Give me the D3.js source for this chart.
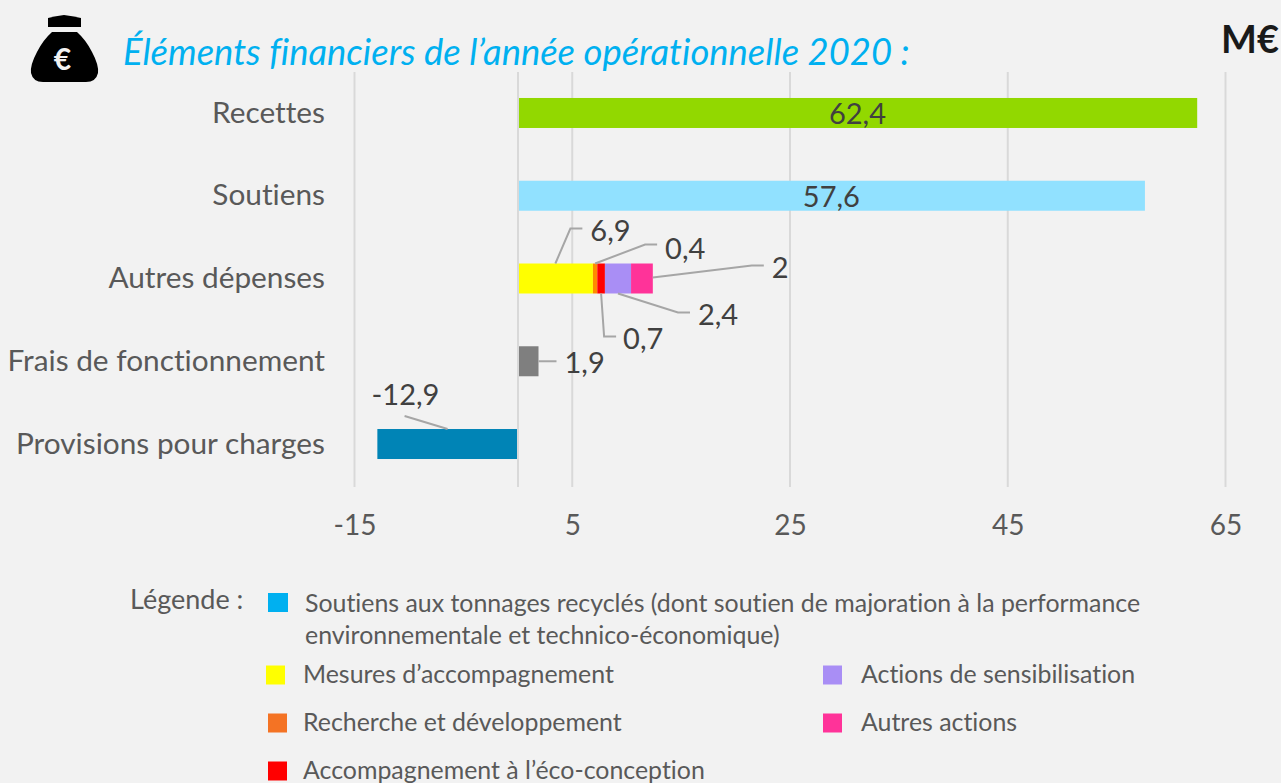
<!DOCTYPE html>
<html>
<head>
<meta charset="utf-8">
<script src="https://d3js.org/d3.v7.min.js"></script>
<style>
  html, body { margin: 0; padding: 0; background: #f2f2f2; overflow: hidden; }
  svg { display: block; font-family: Lato, sans-serif; font-variant-ligatures: none; }
</style>
</head>
<body>
<svg width="1281" height="783"></svg>
<script>
const categories = ["Recettes", "Soutiens", "Autres dépenses", "Frais de fonctionnement", "Provisions pour charges"];
const xTicks = [-15, 5, 25, 45, 65];

// one row per bar: [category, value, colour]
const recettes = [["Recettes", 62.4, "#92d800"]];
const soutiens = [["Soutiens", 57.6, "#91e1ff"]];
const autresValues = [6.9, 0.4, 0.7, 2.4, 2];
const autresColors = ["#ffff00", "#ff8c00", "#ff0000", "#a98ef5", "#ff3399"];
const frais = [["Frais de fonctionnement", 1.9, "#7f7f7f"]];
const provisions = [["Provisions pour charges", -12.9, "#0084b6"]];

const legendLeft = [
  { color: "#ffff00", text: "Mesures d’accompagnement" },
  { color: "#f47324", text: "Recherche et développement" },
  { color: "#ff0000", text: "Accompagnement à l’éco-conception" }
];
const legendRight = [
  { color: "#a98ef5", text: "Actions de sensibilisation" },
  { color: "#ff3399", text: "Autres actions" }
];

const fmt = v => String(v).replace(".", ",");

const svg = d3.select("svg");
const textColor = "#595959";
const labelColor = "#404040";
const leaderColor = "#a6a6a6";
const gridColor = "#d9d9d9";

const x = d3.scaleLinear().domain([-15, 65]).range([354.5, 1225.5]);
const y = d3.scaleBand().domain(categories).range([71.6, 485.4]);
const barH = 30;
const barY = c => y(c) + (y.bandwidth() - barH) / 2;

// Gridlines
svg.append("g").selectAll("line")
  .data(xTicks)
  .enter()
  .append("line")
  .attr("x1", d => x(d)).attr("x2", d => x(d))
  .attr("y1", 72).attr("y2", 487)
  .attr("stroke", gridColor)
  .attr("stroke-width", 2);

// X axis
const xAxis = svg.append("g")
  .attr("transform", "translate(0,487)")
  .call(d3.axisBottom(x).tickValues(xTicks).tickSize(0).tickPadding(28).tickFormat(d => d));
xAxis.select(".domain").remove();
xAxis.selectAll("text")
  .attr("font-family", "Lato, sans-serif")
  .attr("font-size", 28)
  .attr("fill", textColor);

// Y axis
const yAxis = svg.append("g")
  .attr("transform", "translate(325,0)")
  .call(d3.axisLeft(y).tickSize(0).tickPadding(0));
yAxis.select(".domain").remove();
yAxis.selectAll("text")
  .attr("font-family", "Lato, sans-serif")
  .attr("font-size", 29.8)
  .attr("fill", textColor);

// Simple bars
const singles = [...recettes, ...soutiens, ...frais, ...provisions];
svg.append("g").selectAll("rect")
  .data(singles)
  .enter()
  .append("rect")
  .attr("x", d => x(Math.min(0, d[1])))
  .attr("y", d => barY(d[0]))
  .attr("width", d => Math.abs(x(d[1]) - x(0)))
  .attr("height", barH)
  .attr("fill", d => d[2]);

// Stacked bar
let running = 0;
const segments = autresValues.map((v, i) => {
  const s = { value: v, start: running, end: running + v, color: autresColors[i] };
  running += v;
  return s;
});
svg.append("g").selectAll("rect")
  .data(segments)
  .enter()
  .append("rect")
  .attr("x", d => x(d.start))
  .attr("y", barY("Autres dépenses"))
  .attr("width", d => x(d.end) - x(d.start))
  .attr("height", barH)
  .attr("fill", d => d.color);

// Zero line sits over the bar ends
svg.append("line")
  .attr("x1", Math.round(x(0))).attr("x2", Math.round(x(0)))
  .attr("y1", 72).attr("y2", 487)
  .attr("stroke", gridColor)
  .attr("stroke-width", 2);

// Centered labels
[...recettes, ...soutiens].forEach(d => {
  svg.append("text")
    .attr("x", x(d[1] / 2))
    .attr("y", barY(d[0]) + barH / 2)
    .attr("text-anchor", "middle")
    .attr("dominant-baseline", "central")
    .attr("font-size", 29)
    .attr("fill", labelColor)
    .text(fmt(d[1]));
});

// Leader line labels, offsets are relative to the anchor on the bar
function leader(ax, ay, pts, tx, ty, value) {
  const line = d3.line();
  svg.append("path")
    .attr("d", line([[ax, ay]].concat(pts.map(p => [ax + p[0], ay + p[1]]))))
    .attr("fill", "none")
    .attr("stroke", leaderColor)
    .attr("stroke-width", 2);
  svg.append("text")
    .attr("x", ax + tx)
    .attr("y", ay + ty)
    .attr("dominant-baseline", "central")
    .attr("font-size", 29)
    .attr("fill", labelColor)
    .text(fmt(value));
}
const autresTop = barY("Autres dépenses");
const mid = s => x((s.start + s.end) / 2);
leader(mid(segments[0]), autresTop, [[15, -35], [27, -35]], 35, -34, segments[0].value);
leader(mid(segments[1]), autresTop, [[50, -19], [62, -19]], 70, -16, segments[1].value);
leader(x(segments[4].end), autresTop + 14, [[99, -12], [111, -12]], 119, -11, segments[4].value);
leader(mid(segments[3]), autresTop + barH, [[60, 19], [72, 19]], 80, 20, segments[3].value);
leader(mid(segments[2]), autresTop + barH, [[3, 43], [15, 43]], 22, 44, segments[2].value);
leader(x(frais[0][1]), barY(frais[0][0]) + 15, [[18, 0]], 26, 0, frais[0][1]);
leader(x(provisions[0][1] / 2), barY(provisions[0][0]), [[-43, -13]], -76, -36, provisions[0][1]);

// Title
svg.append("text")
  .attr("x", 123).attr("y", 65)
  .attr("font-size", 36.4)
  .attr("font-style", "italic")
  .attr("fill", "#00b0f0")
  .text("Éléments financiers de l’année opérationnelle 2020 :");

svg.append("text")
  .attr("x", 1221).attr("y", 53)
  .attr("font-size", 38)
  .attr("font-weight", "bold")
  .attr("fill", "#1a1a1a")
  .text("M€");

// Money bag icon
const icon = svg.append("g");
icon.append("path")
  .attr("d", "M48,18 Q56,16 64,15 Q72,16 81,18 L81,27 L48,27 Z")
  .attr("fill", "#000");
icon.append("path")
  .attr("d", "M52,32 L77,32 Q86,40 92,52 Q99,65 98,73 Q96,82 86,82 L43,82 Q33,82 31,73 Q30,65 37,52 Q43,40 52,32 Z")
  .attr("fill", "#000");
icon.append("text")
  .attr("x", 62.5).attr("y", 70)
  .attr("text-anchor", "middle")
  .attr("font-size", 30)
  .attr("font-weight", "bold")
  .attr("fill", "#f2f2f2")
  .text("€");

// Legend
const legendSize = 24.9;
svg.append("text")
  .attr("x", 130).attr("y", 598)
  .attr("dominant-baseline", "central")
  .attr("font-size", 27)
  .attr("fill", textColor)
  .text("Légende :");

svg.append("rect").attr("x", 268).attr("y", 593).attr("width", 20).attr("height", 19).attr("fill", "#00b0f0");
["Soutiens aux tonnages recyclés (dont soutien de majoration à la performance",
 "environnementale et technico-économique)"].forEach((t, i) => {
  svg.append("text")
    .attr("x", 305).attr("y", 602 + i * 32)
    .attr("dominant-baseline", "central")
    .attr("font-size", legendSize)
    .attr("fill", textColor)
    .text(t);
});

legendLeft.forEach((d, i) => {
  const cy = 675 + i * 48;
  svg.append("rect").attr("x", i === 0 ? 266 : 268).attr("y", cy - 9.5).attr("width", 19).attr("height", 19).attr("fill", d.color);
  svg.append("text").attr("x", 303).attr("y", cy - 2)
    .attr("dominant-baseline", "central")
    .attr("font-size", legendSize).attr("fill", textColor).text(d.text);
});
legendRight.forEach((d, i) => {
  const cy = 675 + i * 48;
  svg.append("rect").attr("x", 823).attr("y", cy - 9.5).attr("width", 19).attr("height", 19).attr("fill", d.color);
  svg.append("text").attr("x", 861).attr("y", cy - 2)
    .attr("dominant-baseline", "central")
    .attr("font-size", legendSize).attr("fill", textColor).text(d.text);
});
</script>
</body>
</html>
